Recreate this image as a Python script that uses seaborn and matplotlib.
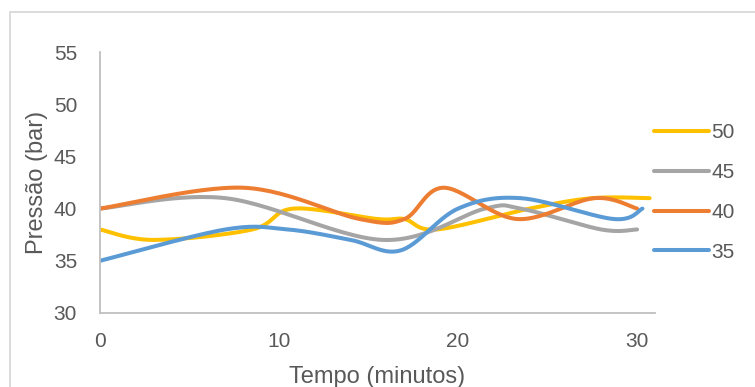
import numpy as np
import pandas as pd
import matplotlib
matplotlib.use("Agg")
import matplotlib.pyplot as plt
import seaborn as sns

# Pressure readings (bar) over time (minutes) for each series
t_50 = [0, 3, 8.5, 10.8, 15.5, 17, 18.8, 24, 27.5, 30.7]
p_50 = [38, 37, 38, 40, 39, 39, 38, 40, 41, 41]

t_45 = [0, 7, 15.8, 21.5, 23.5, 28, 30]
p_45 = [40, 41, 37, 40, 40, 38, 38]

t_40 = [0, 8, 14.5, 17, 19.2, 23.3, 27.6, 30]
p_40 = [40, 42, 39, 39, 42, 39, 41, 40]

t_35 = [0, 7, 10.5, 14, 16.8, 20, 23.5, 28.7, 30.3]
p_35 = [35, 38, 38, 37, 36, 40, 41, 39, 40]

series_names = ["50", "45", "40", "35"]
series_t = [t_50, t_45, t_40, t_35]
series_p = [p_50, p_45, p_40, p_35]
colors = ["#FFC000", "#A5A5A5", "#ED7D31", "#5B9BD5"]

x_ticks = [0, 10, 20, 30]
y_ticks = [30, 35, 40, 45, 50, 55]


def smooth_line(xs, ys, sx=17.9, sy=10.44, n=30):
    """Smoothed line through the points (cubic Bezier with Catmull-Rom tangents)."""
    P = np.column_stack([np.asarray(xs, float) * sx, np.asarray(ys, float) * sy])
    out = [P[0]]
    m = len(P)
    for i in range(m - 1):
        p0 = P[max(i - 1, 0)]
        p1 = P[i]
        p2 = P[i + 1]
        p3 = P[min(i + 2, m - 1)]
        b1 = p1 + (p2 - p0) / 6.0
        b2 = p2 - (p3 - p1) / 6.0
        s = np.linspace(0, 1, n)[1:, None]
        seg = ((1 - s) ** 3) * p1 + 3 * ((1 - s) ** 2) * s * b1 + 3 * (1 - s) * s ** 2 * b2 + s ** 3 * p2
        out.extend(seg)
    out = np.array(out)
    return out[:, 0] / sx, out[:, 1] / sy


frames = []
for name, ts, ps in zip(series_names, series_t, series_p):
    sxv, syv = smooth_line(ts, ps)
    frames.append(pd.DataFrame({"Tempo": sxv, "Pressao": syv, "Serie": name}))
df = pd.concat(frames, ignore_index=True)

sns.set_theme(style="white")
plt.rcParams["font.family"] = ["Liberation Sans", "DejaVu Sans"]

text_color = "#595959"
axis_color = "#BFBFBF"

fig = plt.figure(figsize=(7.55, 3.87), dpi=100)
ax = fig.add_axes([100 / 755, 1 - 313 / 387, 555 / 755, 261 / 387])

sns.lineplot(data=df, x="Tempo", y="Pressao", hue="Serie", hue_order=series_names,
             palette=colors, sort=False, estimator=None, linewidth=2.9, ax=ax,
             solid_capstyle="round")

ax.set_xlim(0, 31)
ax.set_ylim(30, 55)
ax.set_xticks(x_ticks)
ax.set_yticks(y_ticks)
ax.tick_params(axis="both", length=0, labelsize=15, labelcolor=text_color)
ax.tick_params(axis="y", pad=16.5)
ax.tick_params(axis="x", pad=14)

for side in ["top", "right"]:
    ax.spines[side].set_visible(False)
for side in ["left", "bottom"]:
    ax.spines[side].set_color(axis_color)
    ax.spines[side].set_linewidth(1.3)

ax.set_xlabel("Tempo (minutos)", fontsize=17, color=text_color)
ax.set_ylabel("Pressão (bar)", fontsize=17, color=text_color)
ax.xaxis.set_label_coords(0.5, -0.203)
ax.yaxis.set_label_coords(-0.113, 0.5)
ax.yaxis.label.set_va("center")

handles, labels = ax.get_legend_handles_labels()
leg = ax.legend(handles, labels, loc="center left", bbox_to_anchor=(646 / 755, 1 - 192.5 / 387),
                bbox_transform=fig.transFigure, frameon=False, fontsize=15,
                handlelength=2.6, handletextpad=0.12, labelspacing=1.0, borderaxespad=0)
for txt in leg.get_texts():
    txt.set_color(text_color)
for line in leg.get_lines():
    line.set_linewidth(2.9)

# chart area border
fig.patches.append(plt.Rectangle((10 / 755, -0.05), 1.1, 1 - 12 / 387 + 0.05,
                                 transform=fig.transFigure, fill=False,
                                 edgecolor="#D9D9D9", linewidth=1.3))

fig.savefig("out.png", dpi=100)
